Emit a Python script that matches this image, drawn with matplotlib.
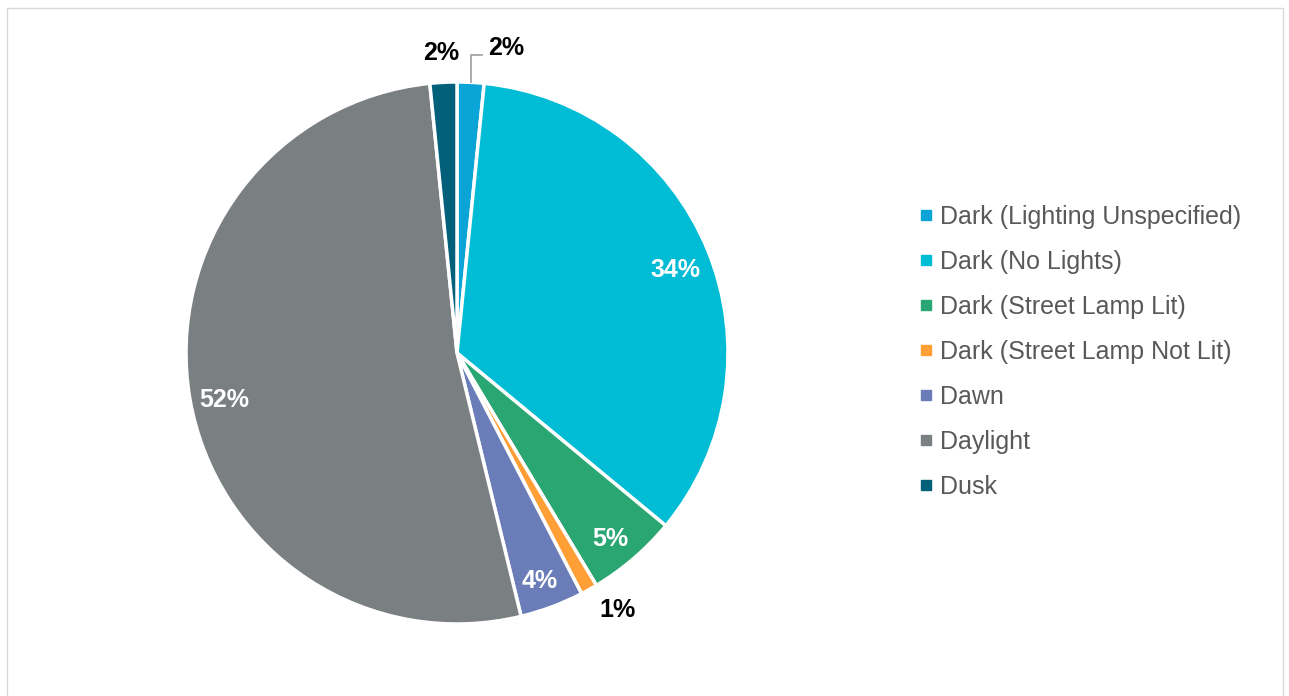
import numpy as np
import matplotlib.pyplot as plt
from matplotlib.lines import Line2D
from matplotlib.patches import Rectangle

plt.rcParams['font.family'] = ['Liberation Sans', 'DejaVu Sans']

# данные
categories = ['Dark (Lighting Unspecified)', 'Dark (No Lights)',
              'Dark (Street Lamp Lit)', 'Dark (Street Lamp Not Lit)',
              'Dawn', 'Daylight', 'Dusk']
shares = [1.6, 34.4, 5.4, 1.0, 3.8, 52.2, 1.6]
colors = ['#0AA5D6', '#00BCD4', '#2AA673', '#FF9F36', '#6B7DB8', '#7A7F82', '#03607A']

W, H = 1289, 696
fig = plt.figure(figsize=(W / 100, H / 100), dpi=100)

# рамка вокруг графика
fig.patches.append(Rectangle((7 / W, -0.01), 1276 / W, 1 - 8 / H + 0.01,
                             transform=fig.transFigure, fill=False,
                             edgecolor='#D9D9D9', linewidth=1))

cx, cy, r = 457, H - 353, 271
ax = fig.add_axes([(cx - r) / W, (cy - r) / H, 2 * r / W, 2 * r / H])
wedges, _ = ax.pie(shares, colors=colors, startangle=90, counterclock=False,
                   radius=1.0, wedgeprops=dict(edgecolor='white', linewidth=2.5))
ax.set_xlim(-1, 1)
ax.set_ylim(-1, 1)
ax.set_aspect('equal')
ax.axis('off')

for i, (w, val) in enumerate(zip(wedges, shares)):
    ang = np.deg2rad((w.theta1 + w.theta2) / 2)
    txt = f'{round(val):.0f}%'
    if val >= 3:
        ax.text(0.87 * np.cos(ang), 0.87 * np.sin(ang) - 0.025, txt, color='white',
                fontsize=18, fontweight='bold', ha='center', va='center')
    elif i == 0:
        # подпись с выноской
        x0 = np.cos(ang)
        ax.plot([x0, x0, 0.092], [1.0, 1.10, 1.10], color='#A6A6A6', lw=1.3,
                clip_on=False, solid_joinstyle='miter')
        ax.text(0.18, 1.125, txt, fontsize=18, fontweight='bold',
                ha='center', va='center')
    else:
        ax.text(1.13 * np.cos(ang) + (0.04 if i == 3 else 0),
                1.12 * np.sin(ang) + (0.03 if i == 3 else -0.01),
                txt, fontsize=18, fontweight='bold', ha='center', va='center')

handles = [Line2D([], [], marker='s', linestyle='none', markersize=7,
                  markerfacecolor=c, markeredgecolor=c) for c in colors]
fig.legend(handles, categories, loc='center left', bbox_to_anchor=(905 / W, 1 - 352 / H),
           frameon=False, fontsize=18, labelcolor='#595959', handlelength=0.7,
           handletextpad=0.2, labelspacing=0.84, borderpad=0)

fig.savefig('out.png', dpi=100)
